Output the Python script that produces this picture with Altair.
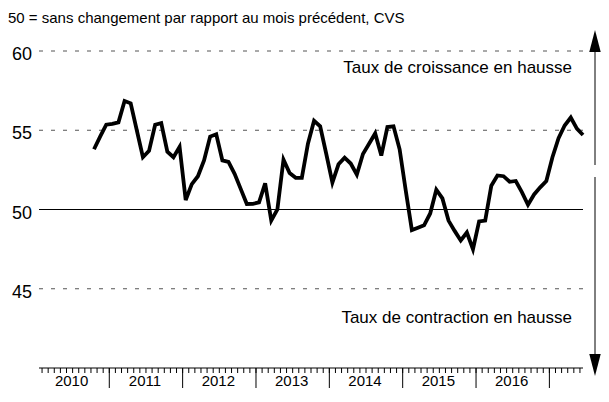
import altair as alt
import pandas as pd

# ---- data ----
start_year = 2010
start_month = 10  # first observation: October 2010
values = [53.8, 54.6, 55.35, 55.4, 55.5, 56.85, 56.7, 55.0, 53.3, 53.7,
          55.35, 55.45, 53.65, 53.3, 53.95, 50.6, 51.6, 52.1, 53.1, 54.6,
          54.75, 53.1, 53.0, 52.25, 51.3, 50.35, 50.36, 50.45, 51.65, 49.3,
          50.0, 53.15, 52.3, 52.0, 52.0, 54.15, 55.6, 55.25, 53.5, 51.7,
          52.85, 53.27, 52.9, 52.2, 53.5, 54.15, 54.8, 53.4, 55.2, 55.25,
          53.8, 51.2, 48.7, 48.85, 49.0, 49.75, 51.25, 50.7, 49.3, 48.65,
          48.05, 48.55, 47.5, 49.25, 49.3, 51.5, 52.15, 52.1, 51.75, 51.8,
          51.1, 50.3, 50.95, 51.4, 51.8, 53.3, 54.5, 55.3, 55.8, 55.1, 54.7]
year_labels = ["2010", "2011", "2012", "2013", "2014", "2015", "2016"]
year_boundaries = [2011, 2012, 2013, 2014, 2015, 2016, 2017]
month_ticks = list(range(1, 90))  # month boundaries from Feb 2010 to Jun 2017
dashed_levels = [45, 55, 60]
solid_level = [50]
y_tick_labels = [45, 50, 55, 60]
title_text = "50 = sans changement par rapport au mois précédent, CVS"
upper_text = "Taux de croissance en hausse"
lower_text = "Taux de contraction en hausse"

# month index: t = months since Jan 2010 (month centres at .5)
t0 = (start_month - 1) + 0.5
df = pd.DataFrame({"t": [t0 + i for i in range(len(values))], "v": values})
years_df = pd.DataFrame({"t": [12 * (int(y) - start_year) + 6 for y in year_labels],
                         "label": year_labels})
bounds_df = pd.DataFrame({"t": [12 * (y - start_year) for y in year_boundaries]})
ticks_df = pd.DataFrame({"t": month_ticks})

W, H = 544, 317
FONT = "Liberation Sans, Arial, sans-serif"
xs = alt.Scale(domain=[0.5, 89.5], nice=False, zero=False)
ys = alt.Scale(domain=[40, 60], nice=False, zero=False)

line = alt.Chart(df).mark_line(color="black", strokeWidth=3.8).encode(
    x=alt.X("t:Q", scale=xs, axis=None),
    y=alt.Y("v:Q", scale=ys, axis=None),
)

x_domain = alt.Chart(pd.DataFrame({"a": [0]})).mark_rule(color="black", strokeWidth=1).encode(
    x=alt.value(0), x2=alt.value(W), y=alt.value(H))

minor = alt.Chart(ticks_df).mark_rule(color="black", strokeWidth=1).encode(
    x=alt.X("t:Q", scale=xs, axis=None), y=alt.value(H), y2=alt.value(H + 5))

major = alt.Chart(bounds_df).mark_rule(color="black", strokeWidth=1).encode(
    x=alt.X("t:Q", scale=xs, axis=None), y=alt.value(H), y2=alt.value(H + 20))

ylab = alt.Chart(years_df).mark_text(font=FONT, fontSize=15, baseline="middle",
                                     align="center", dx=-1).encode(
    x=alt.X("t:Q", scale=xs, axis=None), y=alt.value(H + 12.5), text="label:N")

dashed = alt.Chart(pd.DataFrame({"v": dashed_levels})).mark_rule(
    color="#555", strokeWidth=1, strokeDash=[4, 8]).encode(
    y=alt.Y("v:Q", scale=ys, axis=None), x=alt.value(0), x2=alt.value(W))

solid = alt.Chart(pd.DataFrame({"v": solid_level})).mark_rule(
    color="black", strokeWidth=1).encode(
    y=alt.Y("v:Q", scale=ys, axis=None), x=alt.value(0), x2=alt.value(W))

yticks = alt.Chart(pd.DataFrame({"v": y_tick_labels})).mark_text(
    font=FONT, fontSize=18, align="right", baseline="middle", dy=4).encode(
    y=alt.Y("v:Q", scale=ys, axis=None), x=alt.value(-7), text=alt.Text("v:Q"))

def label(txt, x, y, align, size):
    return alt.Chart(pd.DataFrame({"s": [txt]})).mark_text(
        font=FONT, fontSize=size, align=align, baseline="alphabetic").encode(
        x=alt.value(x), y=alt.value(y), text="s:N")

title = label(title_text, -31, -28, "left", 15)
up_lbl = label(upper_text, 533, 22, "right", 17)
low_lbl = label(lower_text, 533, 272, "right", 17)

AX = 556
arrow_df = pd.DataFrame({"a": [0]})
shaft_up = alt.Chart(arrow_df).mark_rule(color="black", strokeWidth=1).encode(
    x=alt.value(AX), y=alt.value(0), y2=alt.value(114))
shaft_dn = alt.Chart(arrow_df).mark_rule(color="black", strokeWidth=1).encode(
    x=alt.value(AX), y=alt.value(126), y2=alt.value(303))
head_up = alt.Chart(arrow_df).mark_point(
    shape="M0,-1L0.52,1L-0.52,1Z", filled=True, color="black", size=484, opacity=1).encode(
    x=alt.value(AX), y=alt.value(-10))
head_dn = alt.Chart(arrow_df).mark_point(
    shape="M0,1L0.52,-1L-0.52,-1Z", filled=True, color="black", size=484, opacity=1).encode(
    x=alt.value(AX), y=alt.value(314))

chart = alt.layer(
    dashed, solid, line, x_domain, minor, major, ylab, yticks, title, up_lbl, low_lbl,
    shaft_up, shaft_dn, head_up, head_dn,
).properties(
    width=W, height=H,
    autosize=alt.AutoSizeParams(type="none"),
    padding={"left": 31, "top": 43, "right": 18, "bottom": 22},
).configure(font=FONT).configure_view(stroke=None)

chart.save("out.html", embed_options={"renderer": "svg", "actions": False})
